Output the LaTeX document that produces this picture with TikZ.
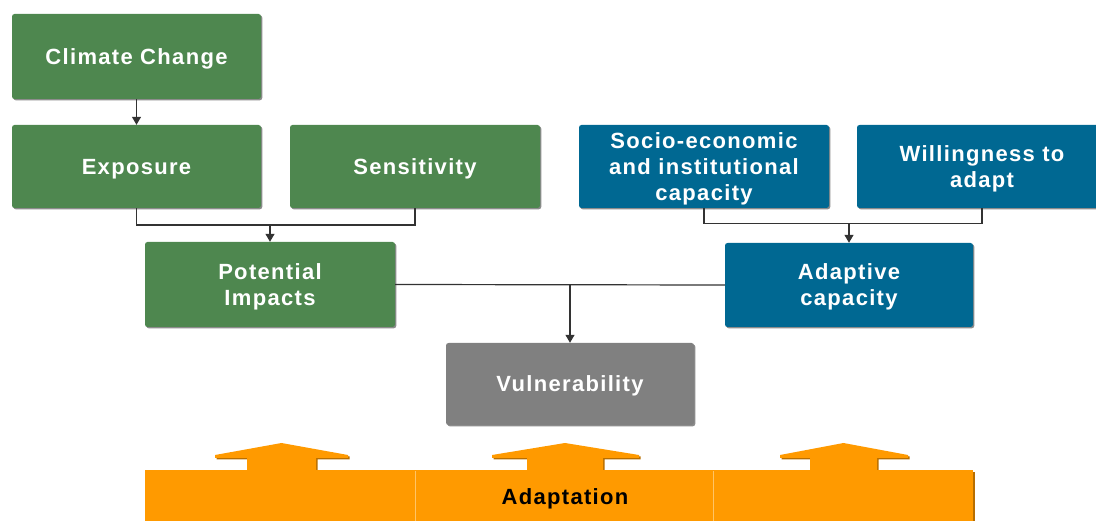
\documentclass[tikz,border=0pt]{standalone}
\usepackage{fontspec}
\newfontfamily\boxfont{Liberation Sans}[LetterSpace=6]
\usetikzlibrary{arrows.meta,shadows}
\definecolor{cgreen}{HTML}{4E874F}
\definecolor{cblue}{HTML}{006892}
\definecolor{cgray}{HTML}{808080}
\definecolor{corange}{HTML}{FF9A00}
\definecolor{corangedark}{HTML}{B86E00}
\definecolor{corangelight}{HTML}{FFC466}
\definecolor{cline}{HTML}{333333}
\tikzset{
  box/.style={rectangle, rounded corners=2.5pt, inner sep=0pt, align=center,
    text depth=0pt,
    text=white, font=\boxfont\bfseries\fontsize{22}{26}\selectfont,
    drop shadow={shadow xshift=1.3pt, shadow yshift=-1.3pt, fill=black, opacity=0.45}},
  gbox/.style={box, fill=cgreen},
  bbox/.style={box, fill=cblue},
  graybox/.style={box, fill=cgray},
  conn/.style={draw=cline, line width=1.2pt},
  arr/.style={conn, -{Triangle[width=9pt,length=8pt]}},
}
\begin{document}
\begin{tikzpicture}[x=1pt,y=-1pt]
\useasboundingbox (0,0) rectangle (1096,521);
\clip (0,0) rectangle (1096,521);
% boxes
\node[gbox, minimum width=249pt, minimum height=85pt] (cc) at (136.5,56.5) {Climate Change};
\node[gbox, minimum width=249pt, minimum height=83pt] (exp) at (136.5,166.5) {Exposure};
\node[gbox, minimum width=250pt, minimum height=83pt] (sens) at (415,166.5) {Sensitivity};
\node[bbox, minimum width=250pt, minimum height=83pt] (socio) at (704,166.5) {Socio-economic\\and institutional\\capacity};
\node[bbox, minimum width=250pt, minimum height=83pt] (will) at (982,166.5) {Willingness to\\adapt};
\node[gbox, minimum width=250pt, minimum height=85pt] (pot) at (270,284.5) {Potential\\Impacts};
\node[bbox, minimum width=248pt, minimum height=84pt] (adap) at (849,285) {Adaptive\\capacity};
\node[graybox, minimum width=248pt, minimum height=82pt] (vul) at (570,384) {Vulnerability};
% connectors
\draw[arr] (cc) -- (exp);
\coordinate (j1) at (270,225);
\draw[conn] (exp.south) |- (j1) -| (sens.south);
\draw[arr] (j1) -- (pot.north);
\coordinate (j2) at (849,223.5);
\draw[conn] (socio.south) |- (j2) -| (will.south);
\draw[arr] (j2) -- (adap.north);
\coordinate (j3) at (570,284.5);
\draw[conn] (pot.east) -- (adap.west);
\draw[arr] (j3) -- (vul.north);
% adaptation bar with arrows
\foreach \dx/\dy/\col in {1.5/1.5/corangedark, 0/0/corange}{
  \begin{scope}[shift={(\dx,\dy)}]
  \fill[\col] (145,470) rectangle (973,530);
  \fill[\col] (247,471) -- (247,458) -- (215,458) -- (215,455) -- (281.5,443) -- (348,455) -- (348,458) -- (316,458) -- (316,471) -- cycle;
  \fill[\col] (527,471) -- (527,458) -- (492,458) -- (492,455) -- (565,443) -- (639,455) -- (639,458) -- (603,458) -- (603,471) -- cycle;
  \fill[\col] (810,471) -- (810,458) -- (780,458) -- (780,455) -- (843.5,443) -- (908,455) -- (908,458) -- (877,458) -- (877,471) -- cycle;
  \end{scope}
}
\fill[corange] (145,470) rectangle (973,530);
\draw[corangelight, line width=1pt] (415,471) -- (415,521);
\draw[corangelight, line width=1pt] (713,471) -- (713,521);
\node[font=\boxfont\bfseries\fontsize{22}{26}\selectfont, text=black, inner sep=0pt, text depth=0pt] (adapt) at (565,497) {Adaptation};
\end{tikzpicture}
\end{document}
